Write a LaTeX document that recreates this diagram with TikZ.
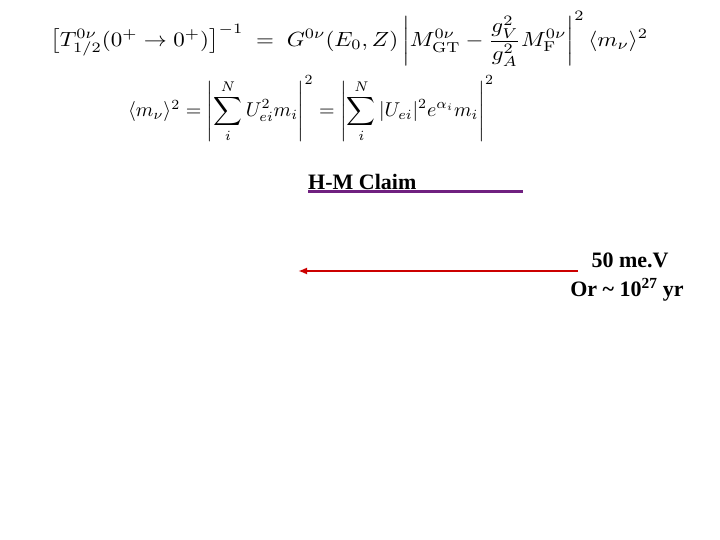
\documentclass[tikz,border=0pt]{standalone}
\usepackage{amsmath}
\usepackage{fontspec}
\usetikzlibrary{arrows.meta}
\newfontfamily\tnr{Liberation Serif}[BoldFont={Liberation Serif Bold}]
\begin{document}
\begin{tikzpicture}[x=1pt,y=-1pt,
  lbl/.style={font=\tnr\bfseries\fontsize{22}{26}\selectfont, inner sep=0pt},
  fm/.style={inner sep=0pt}]
\useasboundingbox (0,0) rectangle (720,540);
\fill[white] (0,0) rectangle (720,540);
\node[fm, anchor=west] (f1) at (50,39) {\scalebox{2.3}[2.05]{$\bigl[T^{0\nu}_{1/2}(0^+\to0^+)\bigr]^{-1} \;=\; G^{0\nu}(E_0,Z)\left|M^{0\nu}_{\mathrm{GT}}-\dfrac{g_V^2}{g_A^2}M^{0\nu}_{\mathrm{F}}\right|^2\langle m_\nu\rangle^2$}};
\node[fm, anchor=west] (f2) at (128,109) {\scalebox{2.0}{$\langle m_\nu\rangle^2=\left|\displaystyle\sum_i^N U_{ei}^2 m_i\right|^2=\left|\displaystyle\sum_i^N |U_{ei}|^2 e^{\alpha_i} m_i\right|^2$}};
\node[lbl, anchor=south west] (hm) at (308,190) {H-M Claim};
\coordinate (pa) at (308,192);
\coordinate (pb) at (523,192);
\draw[line width=3pt, draw={rgb,255:red,112;green,32;blue,128}] (pa) -- (pb);
\coordinate (ra) at (578,271);
\coordinate (rb) at (298,271);
\draw[line width=2pt, red!80!black, -{Latex[length=9pt,width=7pt]}] (ra) -- (rb);
\node[lbl] (t1) at (630,260) {50 me.V};
\node[lbl] (t2) at (627,290) {Or \textasciitilde{} 10\textsuperscript{27} yr};
\end{tikzpicture}
\end{document}
